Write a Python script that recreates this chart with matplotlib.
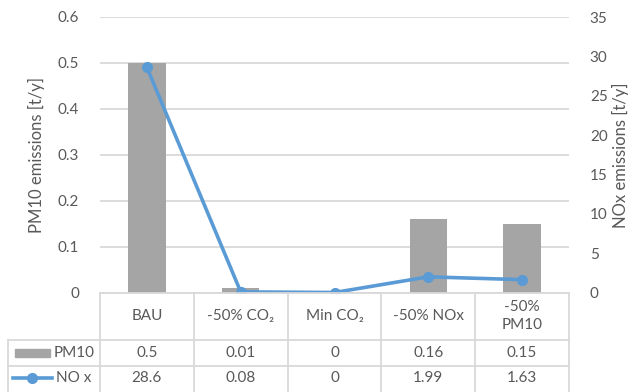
import matplotlib.pyplot as plt
from matplotlib.lines import Line2D
from matplotlib.patches import Rectangle
from matplotlib.transforms import blended_transform_factory

plt.rcParams['font.family'] = ['Lato', 'DejaVu Sans']

scenarios = ['BAU', '-50% CO\u2082', 'Min CO\u2082', '-50% NOx', '-50%\nPM10']
pm10 = [0.5, 0.01, 0, 0.16, 0.15]
nox = [28.6, 0.08, 0, 1.99, 1.63]
pm10_labels = ['0.5', '0.01', '0', '0.16', '0.15']
nox_labels = ['28.6', '0.08', '0', '1.99', '1.63']

TXT = '#595959'
GRID = '#D9D9D9'
BAR = '#A5A5A5'
LINE = '#5B9BD5'
W, H = 629, 392
FS = 11

fig = plt.figure(figsize=(W / 100, H / 100), dpi=100)
x0, x1, y0, y1 = 100, 569, 292.5, 17
ax = fig.add_axes([x0 / W, 1 - y0 / H, (x1 - x0) / W, (y0 - y1) / H])
ax2 = ax.twinx()

xs = list(range(len(scenarios)))
ax.bar(xs, pm10, width=0.4, color=BAR, zorder=2)
ax.set_xlim(-0.5, len(scenarios) - 0.5)
ax.set_ylim(0, 0.6)
ax.set_yticks([0, 0.1, 0.2, 0.3, 0.4, 0.5, 0.6])
ax.set_yticklabels(['0', '0.1', '0.2', '0.3', '0.4', '0.5', '0.6'])
ax.set_xticks([])
ax.yaxis.grid(True, color=GRID, linewidth=1.3)
ax.set_axisbelow(True)

ax2.plot(xs, nox, color=LINE, linewidth=2.6, marker='o', markersize=7, zorder=3)
ax2.set_ylim(0, 35)
ax2.set_yticks(range(0, 40, 5))

for a in (ax, ax2):
    for s in a.spines.values():
        s.set_visible(False)
    a.tick_params(axis='y', length=0, labelsize=FS, colors=TXT)
ax.tick_params(axis='y', pad=15)
ax2.tick_params(axis='y', pad=15)
ax.set_ylabel('PM10 emissions [t/y]', fontsize=12, color=TXT, labelpad=9)
ax2.set_ylabel('NOx emissions [t/y]', fontsize=12, color=TXT, labelpad=3)

# data table under the plot: x in category units, y in figure fraction
tr = blended_transform_factory(ax.transData, fig.transFigure)
cell = (x1 - x0) / len(scenarios)
xl = -0.5 - 92 / cell
fy = lambda p: 1 - p / H
rows = [292.5, 339.5, 366, 393]
xr = len(scenarios) - 0.5

def seg(xa, xb, ya, yb):
    fig.add_artist(Line2D([xa, xb], [fy(ya), fy(yb)], transform=tr,
                          color=GRID, linewidth=1.3, clip_on=False))

seg(-0.5, xr, rows[0], rows[0])
for r in rows[1:3]:
    seg(xl, xr, r, r)
for i in range(len(scenarios) + 1):
    seg(i - 0.5, i - 0.5, rows[0], rows[3])
seg(xl, xl, rows[1], rows[3])

for i, name in enumerate(scenarios):
    fig.text(i, fy((rows[0] + rows[1]) / 2), name, transform=tr, ha='center',
             va='center', fontsize=FS, color=TXT, linespacing=1.35)
    fig.text(i, fy((rows[1] + rows[2]) / 2), pm10_labels[i], transform=tr,
             ha='center', va='center', fontsize=FS, color=TXT)
    fig.text(i, fy((rows[2] + rows[3]) / 2 - 1.5), nox_labels[i], transform=tr,
             ha='center', va='center', fontsize=FS, color=TXT)

# row keys
ym = (rows[1] + rows[2]) / 2
fig.add_artist(Rectangle((15 / W, fy(ym + 4)), 35 / W, 8 / H,
                         transform=fig.transFigure, color=BAR))
fig.text(54 / W, fy(ym), 'PM10', ha='left', va='center', fontsize=FS, color=TXT)
yn = (rows[2] + rows[3]) / 2 - 1.5
fig.add_artist(Line2D([13 / W, 52 / W], [fy(yn), fy(yn)], transform=fig.transFigure,
                      color=LINE, linewidth=2.6))
fig.add_artist(Line2D([32 / W], [fy(yn)], transform=fig.transFigure,
                      color=LINE, marker='o', markersize=7, linestyle='none'))
fig.text(56 / W, fy(yn), 'NO x', ha='left', va='center', fontsize=FS, color=TXT)

fig.savefig('out.png', dpi=100)
